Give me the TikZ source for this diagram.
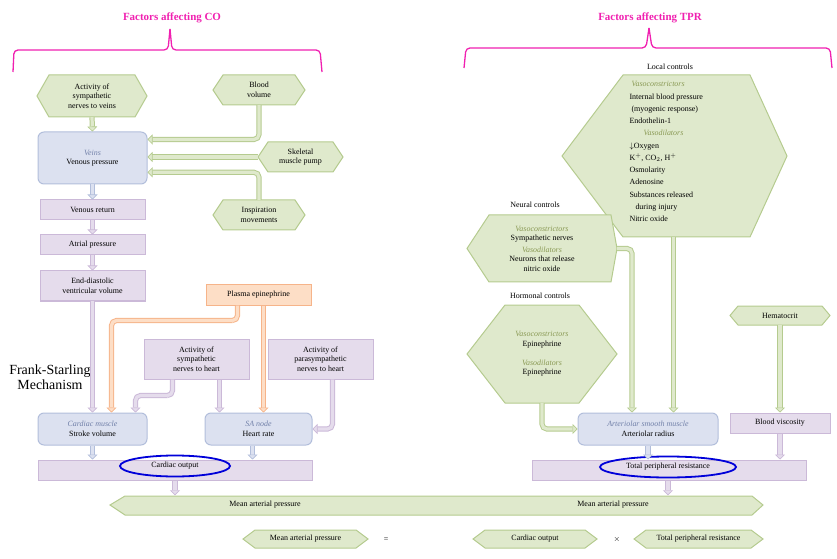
\documentclass[tikz,border=0pt]{standalone}
\usepackage{fontspec}
\setmainfont{Liberation Serif}
\usetikzlibrary{arrows.meta,calc,shapes.geometric}
\definecolor{gF}{HTML}{DFE9CC}\definecolor{gB}{HTML}{B5CB8F}
\definecolor{pF}{HTML}{E5DCEC}\definecolor{pB}{HTML}{CBB9D8}
\definecolor{bF}{HTML}{DCE1F0}\definecolor{bB}{HTML}{B2BEDB}
\definecolor{oF}{HTML}{FDDEC6}\definecolor{oB}{HTML}{F6B48A}
\definecolor{pink}{HTML}{F020B0}
\definecolor{ital}{HTML}{7382AA}\definecolor{olive}{HTML}{8A9A55}
\newcommand\hexn[8]{%
 \path[draw=gB,fill=gF,line width=1bp] (#2,{(#3+#5)/2}) -- (#2+#6,#3) -- (#4-#7,#3) -- (#4,{(#3+#5)/2}) -- (#4-#7,#5) -- (#2+#6,#5) -- cycle;
 \node[inner sep=0,minimum width={(#4-#2)*1bp},minimum height={(#5-#3)*1bp},align=center] (#1) at ({(#2+#4)/2},{(#3+#5)/2}) {#8};}
\newcommand\boxn[7]{%
 \node[#1,inner sep=0,minimum width={(#5-#3)*1bp},minimum height={(#6-#4)*1bp},align=center] (#2) at ({(#3+#5)/2},{(#4+#6)/2}) {#7};}
\tikzset{
 pbox/.style={draw=pB,fill=pF,line width=1bp},
 bbox/.style={draw=bB,fill=bF,line width=1bp,rounded corners=6bp},
 obox/.style={draw=oB,fill=oF,line width=1bp},
 pipe/.style 2 args={draw=#1,double=#2,double distance=3.2bp,line width=1bp,rounded corners=5bp,
   -{Triangle[length=5bp,width=10bp,fill=#2,color=#1,line width=0.6bp]}},
 gp/.style={pipe={gB}{gF}}, pp/.style={pipe={pB}{pF}}, op/.style={pipe={oB}{oF}}, bp/.style={pipe={bB}{bF}},
 ttl/.style={text=pink,font=\bfseries\fontsize{11}{12}\selectfont},
 brk/.style={draw=pink,line width=1.3bp,rounded corners=4bp},
 ell/.style={draw=blue!85!black,line width=1.8bp,ellipse}
}
\newcommand\itb[1]{{\itshape\color{ital}#1}}
\newcommand\io[1]{{\itshape\color{olive}#1}}
\begin{document}
\begin{tikzpicture}[x=1bp,y=-1bp,font=\fontsize{8}{9.5}\selectfont]
\useasboundingbox (0,0) rectangle (837,559);
% titles and brackets
\node[ttl] (t1) at (172,18) {Factors affecting CO};
\node[ttl] (t2) at (650,18) {Factors affecting TPR};
\draw[brk] (13,72) -- (14,50) -- (168,50) -- (170,29);
\draw[brk] (170,29) -- (172,50) -- (320,50) -- (322,72);
\draw[brk] (464,68) -- (466,48) -- (646,48) -- (649,28);
\draw[brk] (649,28) -- (652,48) -- (830,48) -- (832,68);
% left side nodes
\hexn{asv}{37}{75}{147}{117}{12}{12}{Activity of\\sympathetic\\nerves to veins}
\hexn{bvol}{213}{75}{305}{105}{10}{10}{Blood\\volume}
\boxn{bbox}{veins}{38}{132}{147}{184}{\itb{Veins}\\Venous pressure}
\hexn{smp}{258}{142}{343}{172}{10}{10}{Skeletal\\muscle pump}
\hexn{insp}{213}{200}{305}{230}{10}{10}{Inspiration\\movements}
\boxn{pbox}{vr}{40}{200}{145}{220}{Venous return}
\boxn{pbox}{ap}{40}{235}{145}{255}{Atrial pressure}
\boxn{pbox}{edv}{40}{271}{145}{301}{End-diastolic\\ventricular volume}
\boxn{obox}{pe}{206}{285}{311}{305}{Plasma epinephrine}
\boxn{pbox}{snh}{144}{339}{249}{379}{Activity of\\sympathetic\\nerves to heart}
\boxn{pbox}{pnh}{268}{339}{373}{379}{Activity of\\parasympathetic\\nerves to heart}
\boxn{bbox}{cm}{38}{413}{147}{445}{\itb{Cardiac muscle}\\Stroke volume}
\boxn{bbox}{sa}{205}{413}{312}{445}{\itb{SA node}\\Heart rate}
\boxn{pbox}{co}{38}{460}{312}{480}{}
\node[ell,minimum width=110bp,minimum height=21bp] (coe) at (175,466) {Cardiac output};
\node[align=center,font=\fontsize{14}{15.5}\selectfont] (fs) at (50,377) {Frank-Starling\\Mechanism};
% MAP bar
\path[draw=gB,fill=gF,line width=1bp] (110,505) -- (125,496) -- (752,496) -- (763,505) -- (752,515) -- (125,515) -- cycle;
\node[inner sep=0,minimum width=653bp,minimum height=19bp] (map) at (436,505) {};
\node (mapa) at (265,505) {Mean arterial pressure};
\node (mapb) at (613,505) {Mean arterial pressure};
% bottom equation
\hexn{eqm}{243}{530}{368}{548}{12}{12}{Mean arterial pressure}
\node (eq) at (386,540) {=};
\hexn{eqc}{473}{530}{597}{548}{12}{12}{Cardiac output}
\node (ex) at (617,540) {$\times$};
\hexn{eqt}{634}{530}{763}{548}{12}{12}{Total peripheral resistance}
% right side
\node (lc) at (670,67) {Local controls};
\hexn{loc}{562}{75}{787}{237}{61}{37}{}
\node[align=left,anchor=north west,font=\fontsize{8}{12.3}\selectfont] (loct) at (626,78) {%
\hspace*{2bp}\io{Vasoconstrictors}\\Internal blood pressure\\\ (myogenic response)\\Endothelin-1\\
\hspace*{14bp}\io{Vasodilators}\\$\downarrow$Oxygen\\K$^+$, CO$_2$, H$^+$\\Osmolarity\\Adenosine\\Substances released\\\ \ \ during injury\\Nitric oxide};
\node (nc) at (535,205) {Neural controls};
\hexn{neu}{467}{215}{617}{282}{22}{6}{\io{Vasoconstrictors}\\Sympathetic nerves\\[2bp]\io{Vasodilators}\\Neurons that release\\nitric oxide}
\node (hc) at (540,296) {Hormonal controls};
\hexn{hor}{467}{305}{617}{403}{38}{38}{\io{Vasoconstrictors}\\Epinephrine\\[10bp]\io{Vasodilators}\\Epinephrine}
\hexn{hem}{730}{306}{830}{325}{8}{8}{Hematocrit}
\boxn{bbox}{ar}{578}{413}{718}{445}{\itb{Arteriolar smooth muscle}\\Arteriolar radius}
\boxn{pbox}{bv}{730}{413}{830}{433}{Blood viscosity}
\boxn{pbox}{tpr}{532}{460}{806}{480}{}
\node[ell,minimum width=136bp,minimum height=21bp] (tpre) at (668,467) {Total peripheral resistance};
% connectors left
\draw[gp] (asv.south) -- (veins.north);
\draw[gp] (bvol.south) |- ($(veins.north east)!0.15!(veins.south east)$);
\draw[gp] (smp.west) -- (veins.east|-smp.west);
\draw[gp] (insp.north) |- ($(veins.north east)!0.77!(veins.south east)$);
\draw[bp] (veins.south) -- (vr.north);
\draw[pp] (vr.south) -- (ap.north);
\draw[pp] (ap.south) -- (edv.north);
\draw[pp] (edv.south) -- (cm.north);
\draw[op] ([xshift=-21bp]pe.south) |- ++(-10,15) -| ([xshift=19bp]cm.north);
\draw[op] ([xshift=5bp]pe.south) -- ([xshift=5bp]pe.south|-sa.north);
\draw[pp] ([xshift=-24bp]snh.south) |- ++(-10,16) -| ([xshift=43bp]cm.north);
\draw[pp] ([xshift=23bp]snh.south) -- ([xshift=23bp]snh.south|-sa.north);
\draw[pp] ([xshift=12bp]pnh.south) |- (sa.east);
\draw[bp] (cm.south) -- (cm.south|-co.north);
\draw[bp] ([xshift=-6bp]sa.south) -- ([xshift=-6bp]sa.south|-co.north);
\draw[pp] (co.south-|coe.south) -- (map.north-|coe.south);
% connectors right
\draw[gp] (neu.east) -| ([xshift=-16bp]ar.north);
\draw[gp] ([xshift=-1bp]loc.south) -- ([xshift=-1bp]loc.south|-ar.north);
\draw[gp] (hor.south) |- (ar.west);
\draw[gp] (hem.south) -- (bv.north);
\draw[bp] (ar.south) -- (ar.south|-tpr.north);
\draw[pp] (bv.south) -- (bv.south|-tpr.north);
\draw[pp] (tpr.south-|tpre.south) -- (map.north-|tpre.south);
\end{tikzpicture}
\end{document}
